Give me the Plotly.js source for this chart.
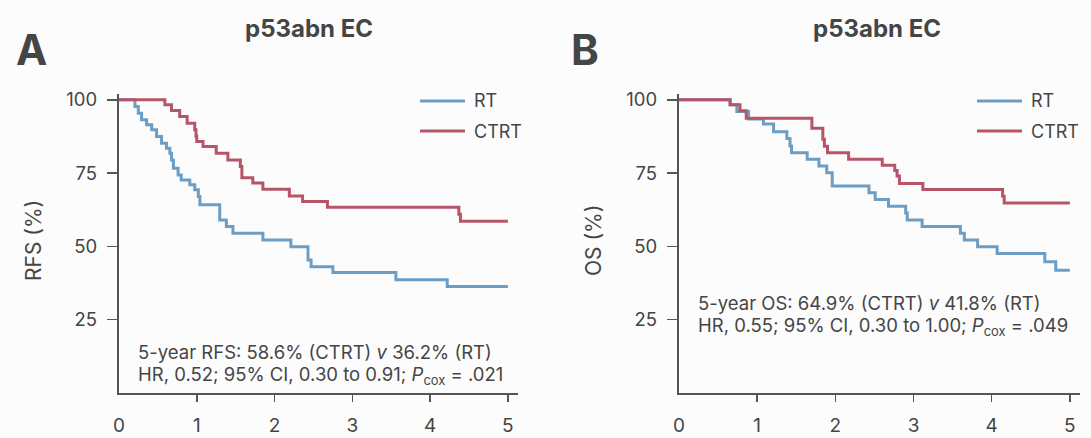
<!DOCTYPE html>
<html><head><meta charset="utf-8">
<script src="https://cdn.plot.ly/plotly-3.0.1.min.js"></script>
<style>html,body{margin:0;padding:0;background:#fcfcfc;}#chart{width:1091px;height:438px;}</style>
</head><body><div id="chart"></div>
<script>
// Panel A: relapse-free survival (years, %)
const rfsRT_t   = [0,0.205,0.248,0.29,0.355,0.42,0.483,0.547,0.61,0.654,0.675,0.70,0.76,0.80,0.91,0.974,1.02,1.04,1.295,1.38,1.465,1.85,2.21,2.43,2.47,2.75,3.56,4.22,5.0];
const rfsRT_v   = [100,97.7,95.4,93.2,91.5,89.8,87.5,85.2,83.5,81.8,79.5,76.7,74.4,72.7,71.0,69.3,67.0,64.2,59.0,56.8,54.5,52.2,49.9,45.4,43.1,41.1,38.6,36.3,36.3];
const rfsCT_t   = [0,0.59,0.675,0.78,0.876,0.974,0.99,1.0,1.08,1.25,1.40,1.56,1.58,1.72,1.85,2.19,2.36,2.68,4.37,4.39,5.0];
const rfsCT_v   = [100,98.3,96.4,94.3,92.0,89.8,87.6,85.8,84.1,81.8,79.5,77.3,73.4,71.6,69.5,67.2,65.3,63.4,61.0,58.6,58.6];
// Panel B: overall survival (years, %)
const osRT_t    = [0,0.654,0.74,0.89,1.08,1.21,1.38,1.42,1.44,1.64,1.79,1.89,1.96,2.43,2.51,2.68,2.90,2.92,3.11,3.60,3.65,3.82,4.07,4.68,4.82,5.0];
const osRT_v    = [100,98.3,96.0,93.5,91.8,89.1,86.8,84.3,82.0,79.7,77.4,75.1,70.6,68.3,66.0,63.7,61.4,59.0,56.8,54.5,52.2,49.9,47.6,44.8,41.9,41.9];
const osCT_t    = [0,0.654,0.78,0.86,1.70,1.84,1.86,1.90,2.17,2.60,2.76,2.79,2.82,3.12,4.14,4.16,5.0];
const osCT_v    = [100,98.3,96.3,93.7,90.3,86.6,84.2,82.0,79.7,77.7,75.9,74.0,71.5,69.4,67.1,64.8,64.8];

const xTicks = [1,2,3,4,5];
const yTicks = [25,50,75,100];
const seriesNames = ['RT','CTRT'];

const BLUE = 'rgb(108,157,196)';
const RED  = 'rgb(182,84,104)';
const TXT  = '#454545';
const AX   = '#555555';
const FONT = 'Inter, "Liberation Sans", Arial, sans-serif';

function tr(x,y,name,color,xa,ya){
  return {x:x,y:y,name:name,type:'scatter',mode:'lines',line:{shape:'hv',color:color,width:3},xaxis:xa,yaxis:ya,showlegend:false,hoverinfo:'x+y+name'};
}
const data = [
  tr(rfsRT_t,rfsRT_v,seriesNames[0],BLUE,'x','y'),
  tr(rfsCT_t,rfsCT_v,seriesNames[1],RED,'x','y'),
  tr(osRT_t,osRT_v,seriesNames[0],BLUE,'x2','y2'),
  tr(osCT_t,osCT_v,seriesNames[1],RED,'x2','y2')
];

const W=1091,H=438;
const px = v=>v/W, py = v=>1-v/H;
function xax(d0,d1,anchor){
  return {domain:[px(d0),px(d1)],range:[0,5.13],anchor:anchor,tickvals:xTicks,ticktext:xTicks.map(String),
    showline:true,linecolor:AX,linewidth:2.2,ticks:'outside',ticklen:7,tickwidth:1.5,tickcolor:AX,
    showgrid:false,zeroline:false,tickfont:{family:FONT,size:19,color:TXT},ticklabelstandoff:7,fixedrange:true};
}
function yax(anchor){
  return {domain:[py(393),py(94)],range:[0,102],anchor:anchor,tickvals:yTicks,ticktext:yTicks.map(String),
    showline:true,linecolor:AX,linewidth:2.2,ticks:'outside',ticklen:10,tickwidth:1.5,tickcolor:AX,
    showgrid:false,zeroline:false,tickfont:{family:FONT,size:18.5,color:TXT},ticklabelstandoff:6,fixedrange:true};
}

const ann = [];
const shapes = [];
function panel(xref,yref,letter,lx,tx,title,ytitle,ytx,lines,ax,ay,legX){
  ann.push({xref:'paper',yref:'paper',x:px(lx),y:py(50),xanchor:'left',yanchor:'middle',text:'<b>'+letter+'</b>',showarrow:false,font:{family:FONT,size:42,color:TXT}});
  ann.push({xref:'paper',yref:'paper',x:px(tx),y:py(28),xanchor:'center',yanchor:'middle',text:'<b>'+title+'</b>',showarrow:false,font:{family:FONT,size:24,color:TXT}});
  ann.push({xref:'paper',yref:'paper',x:px(ytx),y:py(241),xanchor:'center',yanchor:'middle',textangle:-90,text:ytitle,showarrow:false,font:{family:FONT,size:21,color:TXT}});
  ann.push({xref:xref,yref:'paper',x:0,y:py(425),xanchor:'center',yanchor:'middle',text:'0',showarrow:false,font:{family:FONT,size:19,color:TXT}});
  lines.forEach((t,i)=>ann.push({xref:'paper',yref:'paper',x:px(ax),y:py(ay+i*23),xanchor:'left',yanchor:'middle',text:t,showarrow:false,font:{family:FONT,size:18.5,color:TXT}}));
  [[BLUE,101],[RED,131]].forEach((c,i)=>{
    shapes.push({type:'line',xref:'paper',yref:'paper',x0:px(legX),x1:px(legX+45),y0:py(c[1]),y1:py(c[1]),line:{color:c[0],width:3}});
    ann.push({xref:'paper',yref:'paper',x:px(legX+52),y:py(c[1]),xanchor:'left',yanchor:'middle',text:seriesNames[i],showarrow:false,font:{family:FONT,size:18,color:TXT}});
  });
}
panel('x','y','A',14,309,'p53abn EC','RFS (%)',33,
  ['5-year RFS: 58.6% (CTRT) <i>v</i> 36.2% (RT)','HR, 0.52; 95% CI, 0.30 to 0.91; <i>P</i><sub>cox</sub> = .021'],136,352,420);
panel('x2','y2','B',569,877,'p53abn EC','OS (%)',593,
  ['5-year OS: 64.9% (CTRT) <i>v</i> 41.8% (RT)','HR, 0.55; 95% CI, 0.30 to 1.00; <i>P</i><sub>cox</sub> = .049'],696,303,977);

const layout = {
  width:W,height:H,margin:{l:0,r:0,t:0,b:0},
  paper_bgcolor:'#fcfcfc',plot_bgcolor:'rgba(0,0,0,0)',
  font:{family:FONT,color:TXT},showlegend:false,
  xaxis:xax(119,518,'y'),yaxis:yax('x'),
  xaxis2:xax(679,1080,'y2'),yaxis2:yax('x2'),
  annotations:ann,shapes:shapes
};
Plotly.newPlot('chart',data,layout,{displayModeBar:false,staticPlot:true});
</script></body></html>
